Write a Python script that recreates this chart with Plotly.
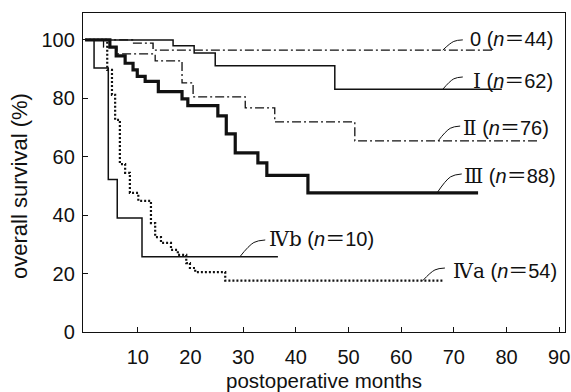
import plotly.graph_objects as go

# ---- data ----
stage0_x = [0, 4.5, 9.0, 12.9, 77.4]
stage0_y = [100, 100, 98.9, 96.5, 96.5]

stageI_x = [0, 16.7, 20.7, 24.7, 47.4, 79.1]
stageI_y = [100, 98.0, 95.5, 91.1, 83.1, 83.1]

stageII_x = [0, 3.5, 6.0, 13.3, 18.4, 20.5, 30.4, 36.0, 51.2, 86.3]
stageII_y = [100, 97.5, 95.2, 92.8, 85.3, 80.5, 76.7, 71.9, 65.4, 65.4]

stageIII_x = [0, 4.7, 5.9, 7.6, 9.1, 9.9, 11.4, 13.9, 18.4, 19.5, 25.2, 26.8, 28.5, 32.8, 34.5, 42.3, 74.6]
stageIII_y = [100, 97.5, 94.5, 92.0, 89.7, 87.5, 85.8, 82.3, 79.8, 77.5, 74.0, 67.8, 61.3, 57.9, 53.6, 47.6, 47.6]

stageIVa_x = [0, 4.2, 5.1, 5.7, 6.6, 7.6, 8.5, 10.1, 12.5, 13.3, 14.4, 16.3, 17.6, 19.2, 19.9, 20.9, 26.6, 67.9]
stageIVa_y = [100, 89.7, 81.2, 72.6, 57.5, 54.5, 47.6, 44.9, 37.3, 32.5, 30.5, 28.1, 26.4, 23.6, 21.9, 20.5, 17.6, 17.6]

stageIVb_x = [0, 1.7, 4.4, 6.1, 10.8, 36.6]
stageIVb_y = [100, 90.4, 52.2, 39.0, 25.8, 25.8]

x_ticks = [10, 20, 30, 40, 50, 60, 70, 80, 90]
y_ticks = [0, 20, 40, 60, 80, 100]

SERIF = "font-family:'DejaVu Serif'"
CJK = "font-family:'Noto Sans CJK JP'"
labels = [
    ("0", "44"), ("Ⅰ", "62"), ("Ⅱ", "76"), ("Ⅲ", "88"), ("Ⅳb", "10"), ("Ⅳa", "54"),
]
# leader start (on curve), leader end / text anchor
label_start_x = [67.9, 67.9, 67.0, 66.8, 29.4, 64.1]
label_start_y = [96.5, 83.1, 65.4, 47.6, 25.8, 17.6]
label_end_x = [71.7, 71.7, 71.2, 71.5, 34.2, 68.3]
label_end_y = [100.0, 87.3, 70.5, 54.1, 31.5, 21.9]
text_x = [72.6, 73.2, 71.4, 71.6, 34.5, 69.4]
text_y = [100.7, 86.3, 70.4, 53.9, 32.2, 21.4]

INK = "#111111"
FONT = "Liberation Sans, Arial, sans-serif"

fig = go.Figure()

series = [
    (stage0_x, stage0_y, dict(color=INK, width=1.4, dash="9px,3px,2px,3px")),
    (stageI_x, stageI_y, dict(color=INK, width=1.5)),
    (stageII_x, stageII_y, dict(color=INK, width=1.3, dash="9px,3px,2px,3px")),
    (stageIII_x, stageIII_y, dict(color=INK, width=3.2)),
    (stageIVa_x, stageIVa_y, dict(color=INK, width=2.2, dash="2px,2px")),
    (stageIVb_x, stageIVb_y, dict(color=INK, width=1.5)),
]
for xs, ys, ln in series:
    fig.add_trace(go.Scatter(x=xs, y=ys, mode="lines", line=ln, line_shape="hv",
                             showlegend=False, hoverinfo="skip"))

# leader lines
for i in range(len(labels)):
    sx, sy, ex, ey = label_start_x[i], label_start_y[i], label_end_x[i], label_end_y[i]
    mx = sx + (ex - sx) * 0.55
    my = sy + (ey - sy) * 0.85
    fig.add_trace(go.Scatter(x=[sx, mx, ex], y=[sy, my, ey], mode="lines",
                             line=dict(color=INK, width=1, shape="spline"),
                             showlegend=False, hoverinfo="skip"))

for i, (stg, n) in enumerate(labels):
    if stg == "0":
        head = "0"
    else:
        head = f'<span style="{SERIF}">{stg}</span>'
    txt = head + f' (<i>n</i><span style="{CJK}">＝</span>{n})'
    fig.add_annotation(x=text_x[i], y=text_y[i], text=txt, showarrow=False,
                       xanchor="left", yanchor="middle",
                       font=dict(family=FONT, size=20, color=INK))

# y-axis title, centred on the 0-100 span as in the reference
fig.add_annotation(xref="paper", x=0, xshift=-63, yref="y", y=50,
                   text="overall survival (%)", textangle=-90, showarrow=False,
                   xanchor="center", yanchor="middle",
                   font=dict(family=FONT, size=22, color=INK))

axis_common = dict(showline=True, linecolor=INK, linewidth=1.3, mirror=True,
                   ticks="inside", ticklen=5, tickcolor=INK, tickwidth=1,
                   showgrid=False, zeroline=False,
                   tickfont=dict(family=FONT, size=20, color=INK))

fig.update_xaxes(range=[-0.4, 91.1], tickvals=x_ticks, ticklabelstandoff=7,
                 title=dict(text="postoperative months", standoff=6,
                            font=dict(family=FONT, size=20.5, color=INK)),
                 **axis_common)
fig.update_yaxes(range=[0, 109.2], tickvals=y_ticks, ticklabelstandoff=3,
                 **axis_common)

fig.update_layout(width=571, height=392, margin=dict(l=83, r=6, t=13, b=60, autoexpand=False),
                  plot_bgcolor="white", paper_bgcolor="white")

fig.write_html("out.html")
